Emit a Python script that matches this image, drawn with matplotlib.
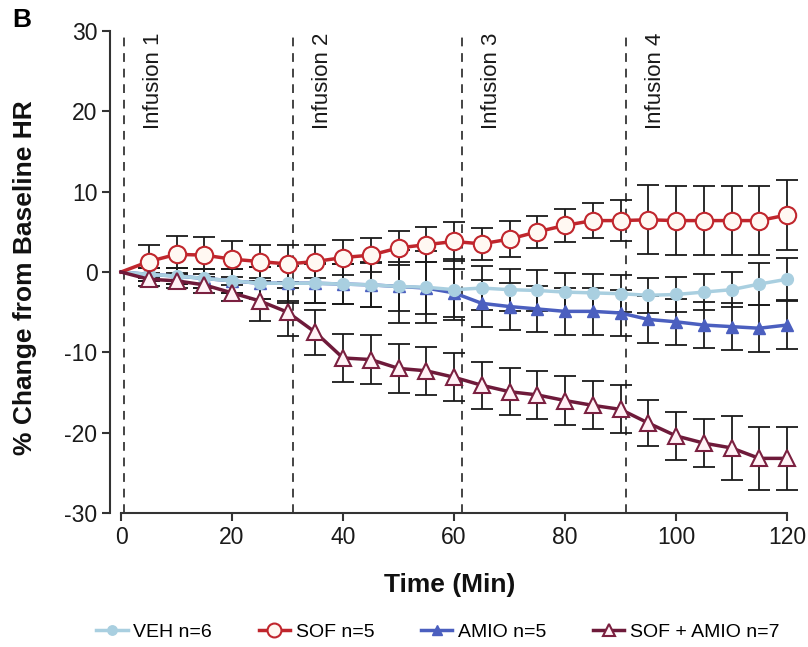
import matplotlib
matplotlib.use("Agg")
import matplotlib.pyplot as plt
import numpy as np

plt.rcParams['font.family'] = ['Liberation Sans', 'DejaVu Sans']
plt.rcParams['axes.unicode_minus'] = False

time = [0, 5, 10, 15, 20, 25, 30, 35, 40, 45, 50, 55, 60,
        65, 70, 75, 80, 85, 90, 95, 100, 105, 110, 115, 120]

veh_mean = [0, -0.3, -0.5, -0.8, -1.1, -1.4, -1.4, -1.4, -1.5, -1.6, -1.8, -1.9, -2.2,
            -2.0, -2.2, -2.3, -2.5, -2.6, -2.7, -2.9, -2.8, -2.5, -2.2, -1.5, -0.9]
veh_err = [0, 0.8, 1.0, 1.2, 1.5, 2.0, 2.2, 2.4, 2.5, 2.7, 4.5, 4.5, 3.8,
           2.7, 2.6, 2.5, 2.4, 2.4, 2.3, 2.2, 2.2, 2.2, 2.2, 2.6, 2.6]

sof_mean = [0, 1.3, 2.2, 2.1, 1.6, 1.3, 1.0, 1.3, 1.8, 2.1, 3.0, 3.4, 3.8,
            3.5, 4.1, 5.0, 5.8, 6.4, 6.4, 6.5, 6.4, 6.4, 6.4, 6.4, 7.1]
sof_err = [0, 2.0, 2.3, 2.3, 2.2, 2.1, 2.3, 2.1, 2.2, 2.1, 2.1, 2.2, 2.4,
           2.0, 2.2, 2.0, 2.1, 2.2, 2.6, 4.3, 4.3, 4.3, 4.3, 4.3, 4.3]

amio_mean = [0, -0.3, -0.5, -0.8, -1.1, -1.4, -1.4, -1.4, -1.5, -1.6, -1.8, -2.0, -2.6,
             -3.9, -4.3, -4.6, -4.9, -4.9, -5.1, -5.9, -6.2, -6.6, -6.8, -7.0, -6.6]
amio_err = [0, 0.8, 1.0, 1.2, 1.5, 2.0, 2.5, 2.5, 2.5, 2.8, 3.0, 3.2, 3.0,
            2.9, 2.9, 2.9, 2.9, 2.9, 2.9, 2.9, 2.9, 2.9, 2.9, 2.9, 3.0]

combo_mean = [0, -0.9, -1.1, -1.6, -2.6, -3.6, -5.0, -7.5, -10.7, -10.9, -12.0, -12.3, -13.1,
              -14.1, -14.9, -15.3, -16.0, -16.6, -17.1, -18.8, -20.4, -21.3, -21.9, -23.2, -23.2]
combo_err = [0, 0.8, 0.9, 1.0, 1.0, 2.5, 3.0, 2.8, 3.0, 3.0, 3.0, 3.0, 3.0,
             2.9, 2.9, 3.0, 3.0, 3.0, 3.0, 2.9, 3.0, 3.0, 4.0, 3.9, 3.9]

labels = ['VEH n=6', 'SOF n=5', 'AMIO n=5', 'SOF + AMIO n=7']
infusion_times = [0.5, 31, 61.5, 91]
infusion_labels = ['Infusion 1', 'Infusion 2', 'Infusion 3', 'Infusion 4']

W, H = 808, 647
fig = plt.figure(figsize=(W / 100, H / 100), dpi=100)
px_per_min = (787 - 121) / 120.0
px_per_unit = (513 - 31) / 60.0
x0_px = 121 - 2 * px_per_min
x1_px = 121 + 122 * px_per_min
y_top_px = 31 - 1 * px_per_unit
y_bot_px = 513 + 1 * px_per_unit
ax = fig.add_axes([x0_px / W, 1 - y_bot_px / H, (x1_px - x0_px) / W, (y_bot_px - y_top_px) / H])
ax.set_xlim(-2, 122)
ax.set_ylim(-31, 31)

styles = [
    dict(color='#a9cfe0', marker='o', ms=8.5, mfc='#a9cfe0', mec='#a9cfe0', mew=1.0),
    dict(color='#c0262d', marker='o', ms=12.5, mfc='#fff8f2', mec='#c0262d', mew=1.5),
    dict(color='#4b5fbf', marker='^', ms=8.5, mfc='#4b5fbf', mec='#4b5fbf', mew=1.0),
    dict(color='#6e1a3a', marker='^', ms=11.5, mfc='#fff2f6', mec='#7b2040', mew=1.5),
]
series = [(veh_mean, veh_err), (sof_mean, sof_err), (amio_mean, amio_err), (combo_mean, combo_err)]
order_z = [4, 5, 3, 6]

t = np.array(time)
handles = []
for (m, e), st, lab, z in zip(series, styles, labels, order_z):
    m = np.array(m); e = np.array(e)
    ax.errorbar(t[1:], m[1:], yerr=e[1:], fmt='none', ecolor='#1a1a1a',
                elinewidth=1.3, capsize=8, capthick=1.3, zorder=2)
    h, = ax.plot(t, m, lw=2.5, markevery=list(range(1, len(t))), label=lab,
                 zorder=z, clip_on=False, **st)
    handles.append(h)

ax.vlines(infusion_times, -30, 30, colors='#444444', linestyles=(0, (4.5, 3.5)), lw=1.4, zorder=1)
for xt, lab in zip(infusion_times, infusion_labels):
    ax.text(xt + 5.3, 29.8, lab, rotation=90, ha='center', va='top', fontsize=16, color='#1a1a1a')

for s in ['top', 'right']:
    ax.spines[s].set_visible(False)
ax.spines['left'].set_bounds(-30, 30)
ax.spines['bottom'].set_bounds(0, 120)
ax.spines['bottom'].set_position(('data', -30))
for s in ['left', 'bottom']:
    ax.spines[s].set_linewidth(1.5)
    ax.spines[s].set_color('#333333')

ax.set_yticks([30, 20, 10, 0, -10, -20, -30])
ax.set_xticks([0, 20, 40, 60, 80, 100, 120])
ax.tick_params(direction='out', length=6, width=1.5, color='#333333', labelsize=16.5,
               labelcolor='#1a1a1a', pad=3)

fig.text(25 / W, 1 - 278 / H, '% Change from Baseline HR', rotation=90, ha='center', va='center',
         fontsize=19, fontweight='bold', color='#111111')
fig.text(450 / W, 1 - 585 / H, 'Time (Min)', ha='center', va='center',
         fontsize=19, fontweight='bold', color='#111111')
fig.text(22 / W, 1 - 20 / H, 'B', ha='center', va='center', fontsize=19, fontweight='bold')

leg = fig.legend(handles=handles, labels=labels, loc='center', ncol=4,
                 bbox_to_anchor=(438 / W, 1 - 632 / H), frameon=False, fontsize=14,
                 handlelength=1.6, handletextpad=0.3, columnspacing=2.4, markerscale=0.8)

fig.savefig('out.png', dpi=100)
